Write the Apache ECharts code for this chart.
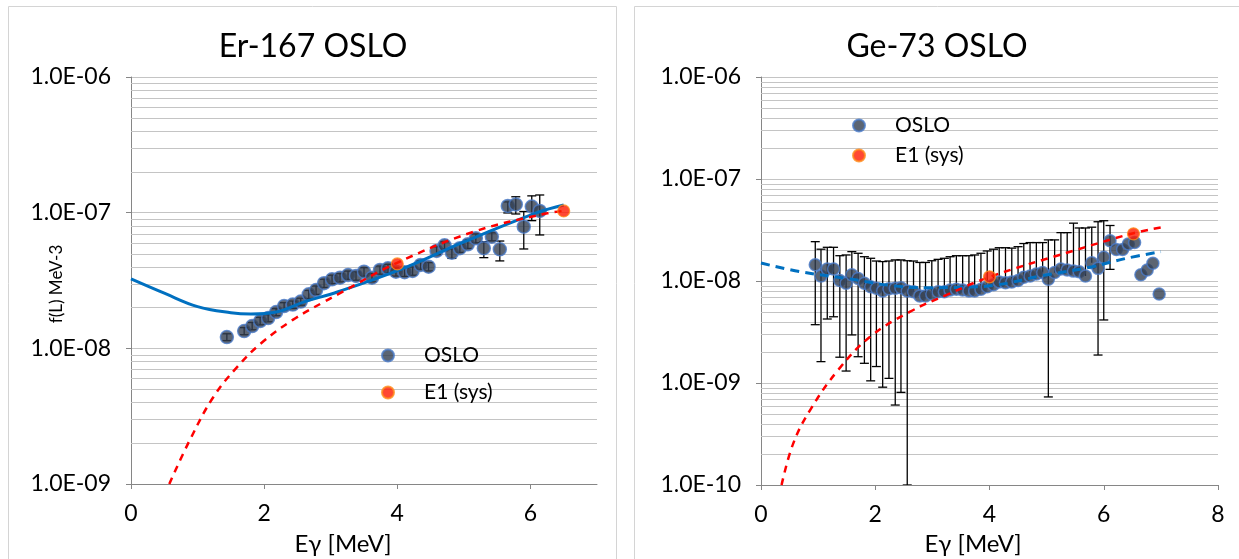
<!DOCTYPE html>
<html><head><meta charset="utf-8">
<script src="https://cdn.jsdelivr.net/npm/echarts@6/dist/echarts.min.js"></script>
<style>html,body{margin:0;padding:0;background:#fff}#c{width:1239px;height:559px}</style>
</head><body><div id="c"></div><script>
// ---------- Er-167 OSLO (left) ----------
const erOsloX = [1.44,1.70,1.82,1.94,2.06,2.18,2.30,2.43,2.55,2.67,2.78,2.90,3.02,3.14,3.26,3.38,3.50,3.62,3.74,3.86,3.98,4.11,4.23,4.35,4.47,4.59,4.71,4.82,4.94,5.06,5.18,5.30,5.42,5.54,5.66,5.78,5.90,6.02,6.14];
const erOsloY = [1.21e-8,1.34e-8,1.46e-8,1.59e-8,1.67e-8,1.85e-8,2.05e-8,2.10e-8,2.21e-8,2.50e-8,2.69e-8,3.02e-8,3.23e-8,3.32e-8,3.47e-8,3.42e-8,3.67e-8,3.32e-8,3.78e-8,3.89e-8,3.67e-8,3.64e-8,3.72e-8,4.12e-8,4.00e-8,5.22e-8,5.75e-8,5.07e-8,5.47e-8,5.85e-8,6.47e-8,5.47e-8,6.65e-8,5.37e-8,1.12e-7,1.15e-7,7.88e-8,1.11e-7,1.03e-7];
const erOsloLow = [1.14e-8,1.26e-8,1.37e-8,1.49e-8,1.57e-8,1.74e-8,1.93e-8,1.97e-8,2.08e-8,2.33e-8,2.50e-8,2.81e-8,3.00e-8,3.09e-8,3.23e-8,3.18e-8,3.41e-8,3.09e-8,3.52e-8,3.62e-8,3.41e-8,3.39e-8,3.46e-8,3.83e-8,3.72e-8,4.90e-8,5.40e-8,4.60e-8,5.10e-8,5.45e-8,6.00e-8,4.66e-8,6.20e-8,4.41e-8,9.95e-8,9.78e-8,5.40e-8,8.73e-8,6.85e-8];
const erOsloHigh = [1.28e-8,1.42e-8,1.55e-8,1.69e-8,1.77e-8,1.96e-8,2.17e-8,2.23e-8,2.34e-8,2.67e-8,2.88e-8,3.23e-8,3.46e-8,3.55e-8,3.71e-8,3.66e-8,3.93e-8,3.55e-8,4.04e-8,4.16e-8,3.93e-8,3.89e-8,3.98e-8,4.41e-8,4.28e-8,5.60e-8,6.10e-8,5.40e-8,5.85e-8,6.30e-8,6.97e-8,6.11e-8,7.10e-8,6.18e-8,1.20e-7,1.31e-7,1.02e-7,1.33e-7,1.35e-7];
const erE1X = [4.0, 6.5];
const erE1Y = [4.19e-8, 1.03e-7];
const erModelX = [0,0.5,1.0,1.5,1.8,2.2,2.6,3.1,4.1,5.0,6.1,6.5];
const erModelY = [3.25e-8,2.55e-8,2.03e-8,1.83e-8,1.79e-8,1.86e-8,2.2e-8,2.60e-8,3.90e-8,6.08e-8,1.00e-7,1.14e-7];
const erE1CurveX = [0.575,0.884,1.24,1.60,1.955,2.43,2.905,3.14,3.98,5.15,6.25,6.5];
const erE1CurveY = [1.0e-9,2.11e-9,4.40e-9,7.33e-9,1.09e-8,1.62e-8,2.21e-8,2.55e-8,4.23e-8,7.24e-8,9.9e-8,1.03e-7];

// ---------- Ge-73 OSLO (right) ----------
const geOsloX = [0.95,1.05,1.16,1.27,1.38,1.49,1.59,1.70,1.81,1.92,2.02,2.13,2.24,2.35,2.45,2.56,2.67,2.78,2.88,2.99,3.10,3.21,3.31,3.42,3.53,3.64,3.74,3.85,3.96,4.07,4.17,4.28,4.39,4.50,4.60,4.71,4.82,4.93,5.03,5.14,5.25,5.36,5.47,5.57,5.68,5.79,5.90,6.00,6.11,6.22,6.33,6.43,6.54,6.65,6.76,6.86,6.97];
const geOsloY = [1.44e-8,1.12e-8,1.31e-8,1.31e-8,1.01e-8,9.5e-9,1.15e-8,1.06e-8,9.5e-9,8.8e-9,8.5e-9,8.0e-9,8.4e-9,8.5e-9,8.6e-9,8.0e-9,7.85e-9,7.13e-9,7.13e-9,7.46e-9,7.85e-9,7.85e-9,8.17e-9,8.3e-9,8.17e-9,8.0e-9,8.0e-9,8.3e-9,8.8e-9,9.2e-9,9.8e-9,9.6e-9,9.8e-9,1.01e-8,1.09e-8,1.12e-8,1.17e-8,1.21e-8,1.04e-8,1.21e-8,1.31e-8,1.28e-8,1.25e-8,1.23e-8,1.12e-8,1.51e-8,1.33e-8,1.71e-8,2.48e-8,2.04e-8,2.04e-8,2.31e-8,2.38e-8,1.15e-8,1.28e-8,1.49e-8,7.46e-9];
const geOsloLow = [3.73e-9,1.62e-9,4.24e-9,4.46e-9,1.79e-9,1.31e-9,2.96e-9,1.81e-9,1.56e-9,1.05e-9,1.45e-9,9.1e-10,1.11e-9,6.08e-10,8.1e-10,1.0e-10,null,null,null,null,null,null,null,null,null,null,null,null,null,null,null,null,null,null,null,null,null,null,7.3e-10,null,null,null,null,null,null,null,1.88e-9,4.15e-9,1.30e-8,null,null,null,null,null,null,null,null];
const geOsloHigh = [2.43e-8,2.05e-8,2.14e-8,2.14e-8,1.77e-8,1.80e-8,1.94e-8,1.87e-8,1.73e-8,1.67e-8,1.57e-8,1.55e-8,1.57e-8,1.61e-8,1.61e-8,1.58e-8,1.57e-8,1.52e-8,1.52e-8,1.58e-8,1.63e-8,1.67e-8,1.73e-8,1.77e-8,1.77e-8,1.77e-8,1.80e-8,1.87e-8,1.97e-8,2.05e-8,2.12e-8,2.12e-8,2.10e-8,2.17e-8,2.33e-8,2.38e-8,2.38e-8,2.38e-8,2.53e-8,2.53e-8,2.98e-8,2.98e-8,3.69e-8,3.31e-8,3.31e-8,3.37e-8,3.81e-8,3.90e-8,3.50e-8,null,null,null,null,null,null,null,null];
const geE1X = [4.0, 6.52];
const geE1Y = [1.10e-8, 2.90e-8];
const geModelX = [0,0.7,1.5,2.3,2.9,3.5,4.1,4.9,5.8,6.4,7.0];
const geModelY = [1.50e-8,1.23e-8,1.06e-8,9.0e-9,8.6e-9,8.7e-9,9.1e-9,1.12e-8,1.38e-8,1.67e-8,1.94e-8];
const geE1CurveX = [0.36,0.565,0.86,1.35,1.91,2.61,3.25,4.01,5.47,6.52,7.07];
const geE1CurveY = [1e-10,2.56e-10,5.43e-10,1.34e-9,2.84e-9,5.0e-9,7.3e-9,1.10e-8,1.98e-8,2.94e-8,3.40e-8];

const FONT = 'Lato, "Open Sans", sans-serif';
const zip = (a,b) => a.map((v,i)=>[v,b[i]]);
const gridColor = '#c4c4c4';

function minorValues(expFrom, expTo){
  const out = [];
  for (let e = expFrom; e < expTo; e++) for (let m = 2; m <= 9; m++) out.push([0, m * Math.pow(10, e)]);
  return out;
}
function renderGrid(params, api){
  const cs = params.coordSys;
  const y = Math.round(api.coord([0, api.value(1)])[1]) + 0.5;
  return {type:'line', shape:{x1:cs.x, y1:y, x2:cs.x + cs.width, y2:y}, style:{stroke:gridColor, lineWidth:1}, silent:true};
}
function errData(xs, ys, lo, hi){
  const out = [];
  xs.forEach((x,i)=>{
    if (hi[i] == null && lo[i] == null) return;
    out.push([x, lo[i] == null ? ys[i] : lo[i], hi[i] == null ? ys[i] : hi[i], lo[i] == null ? 0 : 1, hi[i] == null ? 0 : 1]);
  });
  return out;
}
function renderErr(params, api){
  const x = api.value(0);
  const pL = api.coord([x, api.value(1)]);
  const pH = api.coord([x, api.value(2)]);
  const w = 4.5;
  const st = {stroke:'#000', lineWidth:1.3};
  const ch = [{type:'line', shape:{x1:pL[0],y1:pL[1],x2:pH[0],y2:pH[1]}, style:st}];
  if (api.value(4)) ch.push({type:'line', shape:{x1:pH[0]-w,y1:pH[1],x2:pH[0]+w,y2:pH[1]}, style:st});
  if (api.value(3)) ch.push({type:'line', shape:{x1:pL[0]-w,y1:pL[1],x2:pL[0]+w,y2:pL[1]}, style:st});
  return {type:'group', children: ch};
}
function expLabel(v){
  const e = Math.round(Math.log10(v));
  return '1.0E' + (e < 0 ? '-' : '+') + String(Math.abs(e)).padStart(2,'0');
}

const osloStyle = {color:'#333f50', borderColor:'#4a7ac8', borderWidth:1.5};
const e1Style = {color:'#ff1a00', borderColor:'#ff8c1a', borderWidth:1.2};

function xAxisCfg(gi, max){
  return {type:'value', gridIndex:gi, min:0, max:max, interval:2,
    axisLine:{show:true, onZero:false, lineStyle:{color:'#868686', width:1}},
    axisTick:{show:true, length:5, lineStyle:{color:'#868686'}},
    axisLabel:{show:true, color:'#000', fontSize:23, fontFamily:FONT, margin:18, showMaxLabel: max % 2 === 0},
    splitLine:{show:false}};
}
function yAxisCfg(gi, min){
  return {type:'log', logBase:10, gridIndex:gi, min:min, max:1e-6,
    axisLine:{show:true, lineStyle:{color:'#868686', width:1}},
    axisTick:{show:true, length:5, lineStyle:{color:'#868686'}},
    axisLabel:{color:'#000', fontSize:23, fontFamily:FONT, margin:20, formatter: expLabel},
    splitLine:{show:true, lineStyle:{color:gridColor, width:1}},
    minorTick:{show:false}, minorSplitLine:{show:false}};
}
function legendCfg(left, top, gap){
  return {orient:'vertical', left:left, top:top, itemWidth:12, itemHeight:12, itemGap:gap, icon:'circle',
    textStyle:{fontSize:21, color:'#000', fontFamily:FONT, padding:[0,0,0,25]}, data:['OSLO','E1 (sys)'], selectedMode:false};
}

const option = {
  animation:false,
  backgroundColor:'#fff',
  textStyle:{fontFamily:FONT},
  grid:[
    {left:131, top:77, width:466, height:407, containLabel:false},
    {left:761, top:77, width:457, height:408, containLabel:false}
  ],
  xAxis:[xAxisCfg(0,7), xAxisCfg(1,8)],
  yAxis:[yAxisCfg(0,1e-9), yAxisCfg(1,1e-10)],
  legend:[legendCfg(376, 340, 16), legendCfg(847, 110, 9)],
  graphic:[
    {type:'rect', shape:{x:8.5, y:6.5, width:608, height:600}, style:{fill:null, stroke:'#d4d4d4', lineWidth:1}, silent:true, z:-10},
    {type:'rect', shape:{x:634.5, y:6.5, width:640, height:600}, style:{fill:null, stroke:'#d4d4d4', lineWidth:1}, silent:true, z:-10},
    {type:'text', x:313, y:47, style:{text:'Er-167 OSLO', fontSize:32, fontFamily:FONT, fill:'#000', textAlign:'center', textVerticalAlign:'middle'}},
    {type:'text', x:937, y:47, style:{text:'Ge-73 OSLO', fontSize:32, fontFamily:FONT, fill:'#000', textAlign:'center', textVerticalAlign:'middle'}},
    {type:'text', x:343, y:544, style:{text:'Eγ [MeV]', fontSize:24, fontFamily:FONT, fill:'#000', textAlign:'center', textVerticalAlign:'middle'}},
    {type:'text', x:973, y:544, style:{text:'Eγ [MeV]', fontSize:24, fontFamily:FONT, fill:'#000', textAlign:'center', textVerticalAlign:'middle'}},
    {type:'text', x:57, y:284, rotation:Math.PI/2, style:{text:'f(L) MeV-3', fontSize:17, fontFamily:FONT, fill:'#000', textAlign:'center', textVerticalAlign:'middle'}}
  ],
  series:[
    // minor grid lines
    {name:'gridL', type:'custom', xAxisIndex:0, yAxisIndex:0, renderItem:renderGrid, data:minorValues(-9,-6), encode:{x:0, y:1}, z:1, silent:true},
    {name:'gridR', type:'custom', xAxisIndex:1, yAxisIndex:1, renderItem:renderGrid, data:minorValues(-10,-6), encode:{x:0, y:1}, z:1, silent:true},
    // left
    {name:'errL', type:'custom', xAxisIndex:0, yAxisIndex:0, renderItem:renderErr, data:errData(erOsloX, erOsloY, erOsloLow, erOsloHigh), encode:{x:0, y:[1,2]}, z:3, clip:true, silent:true},
    {name:'OSLO', type:'scatter', xAxisIndex:0, yAxisIndex:0, data:zip(erOsloX, erOsloY), symbol:'circle', symbolSize:13, itemStyle:osloStyle, z:4},
    {name:'modelL', type:'line', xAxisIndex:0, yAxisIndex:0, data:zip(erModelX, erModelY), smooth:0.4, symbol:'none', lineStyle:{color:'#0070c0', width:3}, z:5, silent:true},
    {name:'e1curveL', type:'line', xAxisIndex:0, yAxisIndex:0, data:zip(erE1CurveX, erE1CurveY), smooth:0.4, symbol:'none', lineStyle:{color:'#ff0000', width:2.5, type:[7,6]}, z:6, silent:true},
    {name:'E1 (sys)', type:'scatter', xAxisIndex:0, yAxisIndex:0, data:zip(erE1X, erE1Y), symbol:'circle', symbolSize:12, itemStyle:e1Style, z:7},
    // right
    {name:'errR', type:'custom', xAxisIndex:1, yAxisIndex:1, renderItem:renderErr, data:errData(geOsloX, geOsloY, geOsloLow, geOsloHigh), encode:{x:0, y:[1,2]}, z:3, clip:true, silent:true},
    {name:'OSLO', type:'scatter', xAxisIndex:1, yAxisIndex:1, data:zip(geOsloX, geOsloY), symbol:'circle', symbolSize:12, itemStyle:osloStyle, z:4},
    {name:'modelR', type:'line', xAxisIndex:1, yAxisIndex:1, data:zip(geModelX, geModelY), smooth:0.4, symbol:'none', lineStyle:{color:'#0070c0', width:3, type:[9,6]}, z:5, silent:true},
    {name:'e1curveR', type:'line', xAxisIndex:1, yAxisIndex:1, data:zip(geE1CurveX, geE1CurveY), smooth:0.4, symbol:'none', lineStyle:{color:'#ff0000', width:2.5, type:[7,6]}, z:6, silent:true},
    {name:'E1 (sys)', type:'scatter', xAxisIndex:1, yAxisIndex:1, data:zip(geE1X, geE1Y), symbol:'circle', symbolSize:12, itemStyle:e1Style, z:7}
  ]
};
const chart = echarts.init(document.getElementById('c'), null, {renderer:'canvas'});
chart.setOption(option);
</script></body></html>
